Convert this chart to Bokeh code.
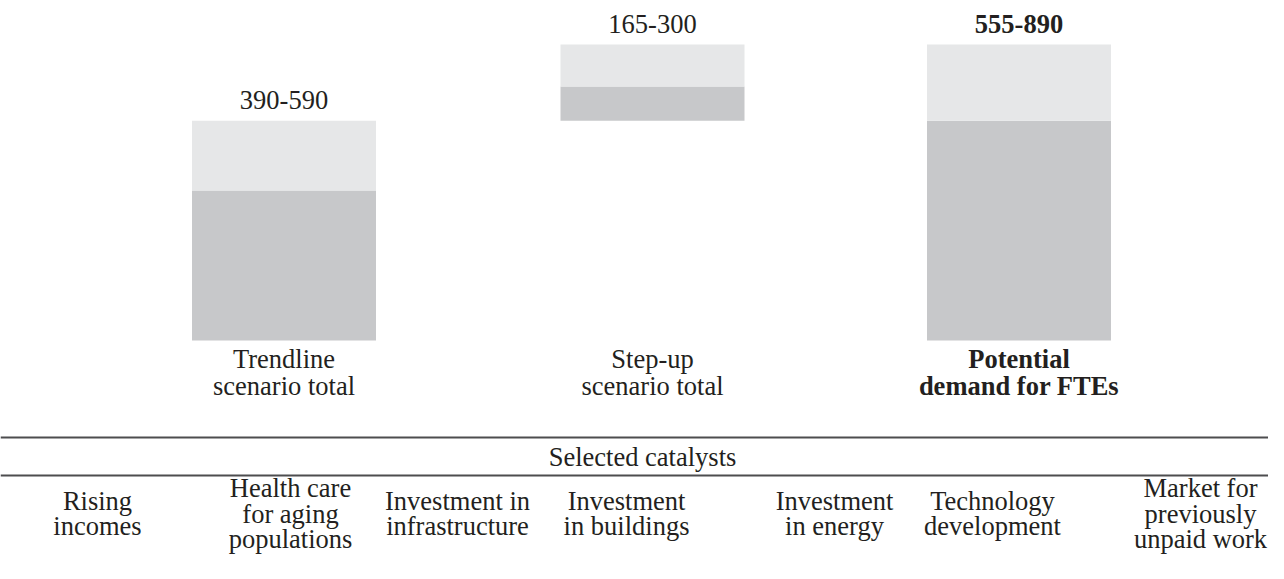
from bokeh.plotting import figure
from bokeh.models import Range1d, ColumnDataSource
from bokeh.core.properties import value
from bokeh.embed import file_html
from bokeh.resources import INLINE

# ---- data ----
scenarios = ["Trendline\nscenario total", "Step-up\nscenario total", "Potential\ndemand for FTEs"]
range_labels = ["390-590", "165-300", "555-890"]
bar_base = [0, 661, 0]          # bottom of the lower (darker) segment
bar_low_top = [451, 764, 661]    # top of the lower segment
bar_high_top = [661, 890, 890]   # top of the upper (lighter) segment
emphasis = [False, False, True]
section_title = "Selected catalysts"
catalysts = ["Rising\nincomes", "Health care\nfor aging\npopulations",
             "Investment in\ninfrastructure", "Investment\nin buildings",
             "Investment\nin energy", "Technology\ndevelopment",
             "Market for\npreviously\nunpaid work"]

# ---- layout (positions in picture pixels) ----
W, H = 1268, 563
bar_x = [283.5, 652, 1018.5]
bar_w = 184
cat_x = [97, 290, 457, 626, 834, 992, 1200]
BASE_PX = 340
TOP_PX = 44
u = bar_high_top[2] / (BASE_PX - TOP_PX)   # value units per pixel
FONT = value("Liberation Serif")
FS = "26.5px"
DARK = "#c7c8ca"
LIGHT = "#e6e7e8"
INK = "#231f20"

p = figure(width=W, height=H, output_backend="svg", toolbar_location=None,
           x_range=Range1d(0, W),
           y_range=Range1d(-(H - BASE_PX) * u, BASE_PX * u),
           min_border=0, background_fill_color="white", border_fill_color="white")
p.extra_y_ranges = {"px": Range1d(start=H, end=0)}
p.axis.visible = False
p.grid.visible = False
p.outline_line_color = None

bars = ColumnDataSource(dict(x=bar_x, base=bar_base, low=bar_low_top, high=bar_high_top))
p.vbar(x="x", width=bar_w, bottom="base", top="low", source=bars,
       fill_color=DARK, line_color=None)
p.vbar(x="x", width=bar_w, bottom="low", top="high", source=bars,
       fill_color=LIGHT, line_color=None)

# range labels above bars
lab = ColumnDataSource(dict(x=bar_x, y=[h + 21 * u for h in bar_high_top],
                            t=range_labels,
                            st=["bold" if e else "normal" for e in emphasis]))
p.text(x="x", y="y", text="t", source=lab, text_font=FONT, text_font_size=FS,
       text_font_style="st", text_align="center", text_baseline="middle",
       text_color=INK)

# scenario labels below bars
sx, sy, st, ss = [], [], [], []
for x, s, e in zip(bar_x, scenarios, emphasis):
    for i, line in enumerate(s.split("\n")):
        sx.append(x); sy.append(358 + 27 * i); st.append(line)
        ss.append("bold" if e else "normal")
p.text(x="x", y="y", text="t", y_range_name="px",
       source=ColumnDataSource(dict(x=sx, y=sy, t=st, s=ss)),
       text_font=FONT, text_font_size=FS, text_font_style="s",
       text_align="center", text_baseline="middle", text_color=INK)

# rules
p.segment(x0=[0, 0], x1=[W, W], y0=[437, 475], y1=[437, 475],
          y_range_name="px", line_color="#4d4d4f", line_width=2)

p.text(x=[642], y=[456], text=[section_title], y_range_name="px",
       text_font=FONT, text_font_size=FS, text_align="center",
       text_baseline="middle", text_color=INK)

# catalysts
cx, cy, ct = [], [], []
for x, s in zip(cat_x, catalysts):
    lines = s.split("\n")
    n = len(lines)
    for i, line in enumerate(lines):
        cx.append(x); cy.append(513 + 25.5 * (i - (n - 1) / 2)); ct.append(line)
p.text(x="x", y="y", text="t", y_range_name="px",
       source=ColumnDataSource(dict(x=cx, y=cy, t=ct)),
       text_font=FONT, text_font_size=FS, text_align="center",
       text_baseline="middle", text_color=INK)

open("out.html", "w").write(file_html(p, INLINE))
